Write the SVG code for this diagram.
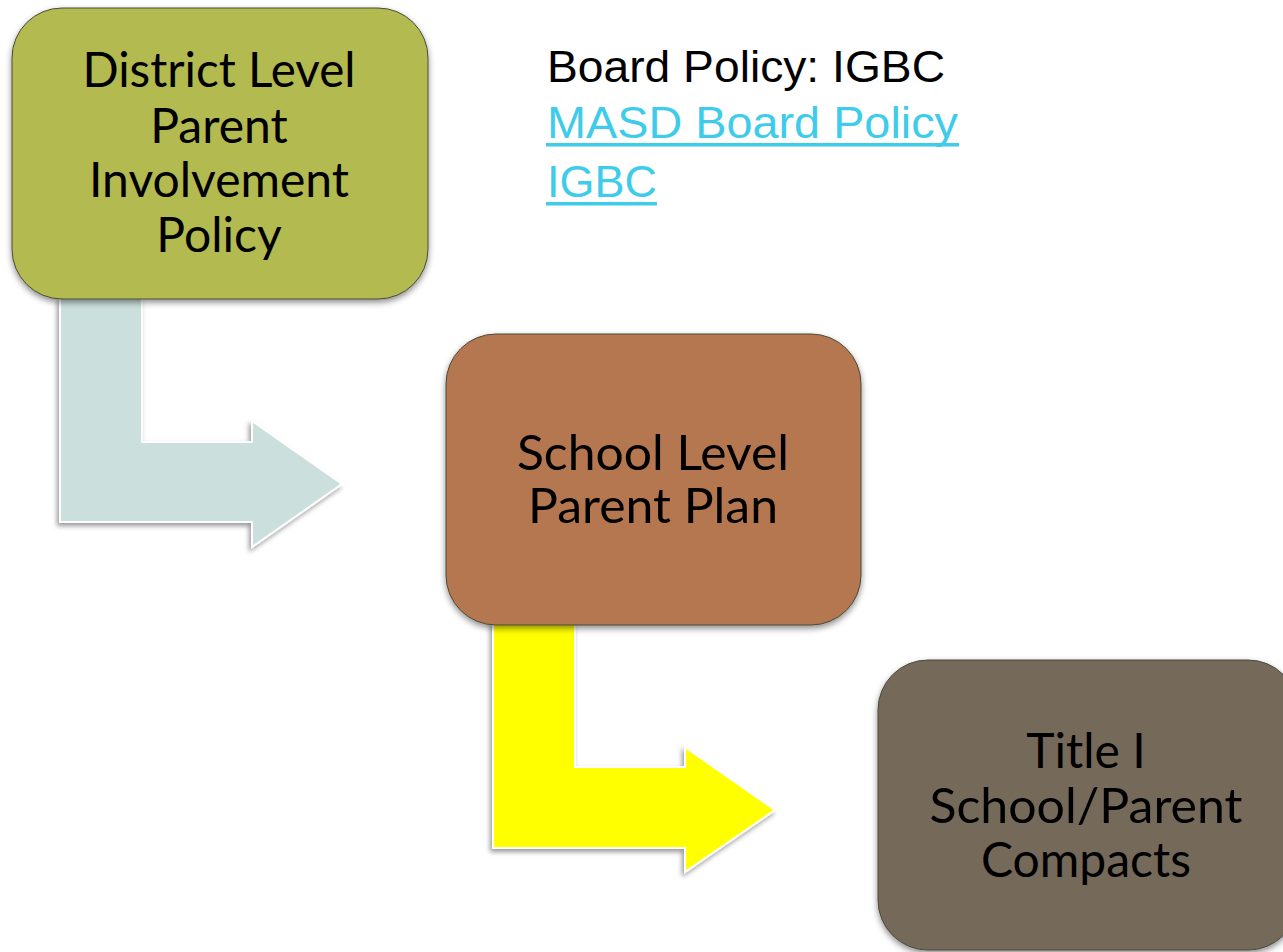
<svg xmlns="http://www.w3.org/2000/svg" width="1283" height="952" viewBox="0 0 1283 952">
<defs>
<filter id="sh" x="-10%" y="-10%" width="125%" height="130%">
<feDropShadow dx="0" dy="3" stdDeviation="3" flood-color="#000" flood-opacity="0.45"/>
</filter>
<filter id="ash" x="-10%" y="-10%" width="125%" height="130%">
<feDropShadow dx="-2" dy="3" stdDeviation="2.5" flood-color="#000" flood-opacity="0.4"/>
</filter>
</defs>
<style>
.box{stroke:#4a4a3a;stroke-width:1;filter:url(#sh)}
.lbl{font-family:Lato,"Noto Sans",sans-serif;font-size:48px;fill:#000;text-anchor:middle}
.arrow{stroke:#ffffff;stroke-width:2;filter:url(#ash)}
.note{font-family:"Liberation Sans",Arial,sans-serif;font-size:44px}
.link{fill:#3fcbea}
</style>
<g id="connectors">
<path class="arrow" fill="#cbdfdd" d="M60,298 L142,298 L142,442 L252,442 L252,421 L342,484 L252,547 L252,522 L60,522 Z"/>
<path class="arrow" fill="#ffff00" d="M493,622 L575,622 L575,767 L685,767 L685,747 L775,810 L685,872 L685,848 L493,848 Z"/>
</g>
<g id="node-district">
<rect class="box" x="12" y="8" width="416" height="291" rx="50" fill="#b3ba4f"/>
<text class="lbl" x="219" y="87" textLength="273" lengthAdjust="spacingAndGlyphs">District Level</text>
<text class="lbl" x="219" y="143">Parent</text>
<text class="lbl" x="219" y="197">Involvement</text>
<text class="lbl" x="219" y="252">Policy</text>
</g>
<g id="node-school">
<rect class="box" x="446" y="334" width="415" height="291" rx="50" fill="#b5774f"/>
<text class="lbl" x="653" y="470" textLength="272" lengthAdjust="spacingAndGlyphs">School Level</text>
<text class="lbl" x="653" y="523" textLength="250" lengthAdjust="spacingAndGlyphs">Parent Plan</text>
</g>
<g id="node-title">
<rect class="box" x="878" y="660" width="420" height="290" rx="50" fill="#75695a"/>
<text class="lbl" x="1086" y="768">Title I</text>
<text class="lbl" x="1086" y="823" textLength="313" lengthAdjust="spacingAndGlyphs">School/Parent</text>
<text class="lbl" x="1086" y="877">Compacts</text>
</g>
<g id="note">
<text class="note" x="547" y="82" fill="#000" textLength="398" lengthAdjust="spacingAndGlyphs">Board Policy: IGBC</text>
<text class="note link" x="547" y="138" textLength="411" lengthAdjust="spacingAndGlyphs">MASD Board Policy</text>
<rect class="link" x="546" y="143" width="413" height="3.5"/>
<text class="note link" x="547" y="197" textLength="110" lengthAdjust="spacingAndGlyphs">IGBC</text>
<rect class="link" x="546" y="202" width="111" height="3.5"/>
</g>
</svg>
